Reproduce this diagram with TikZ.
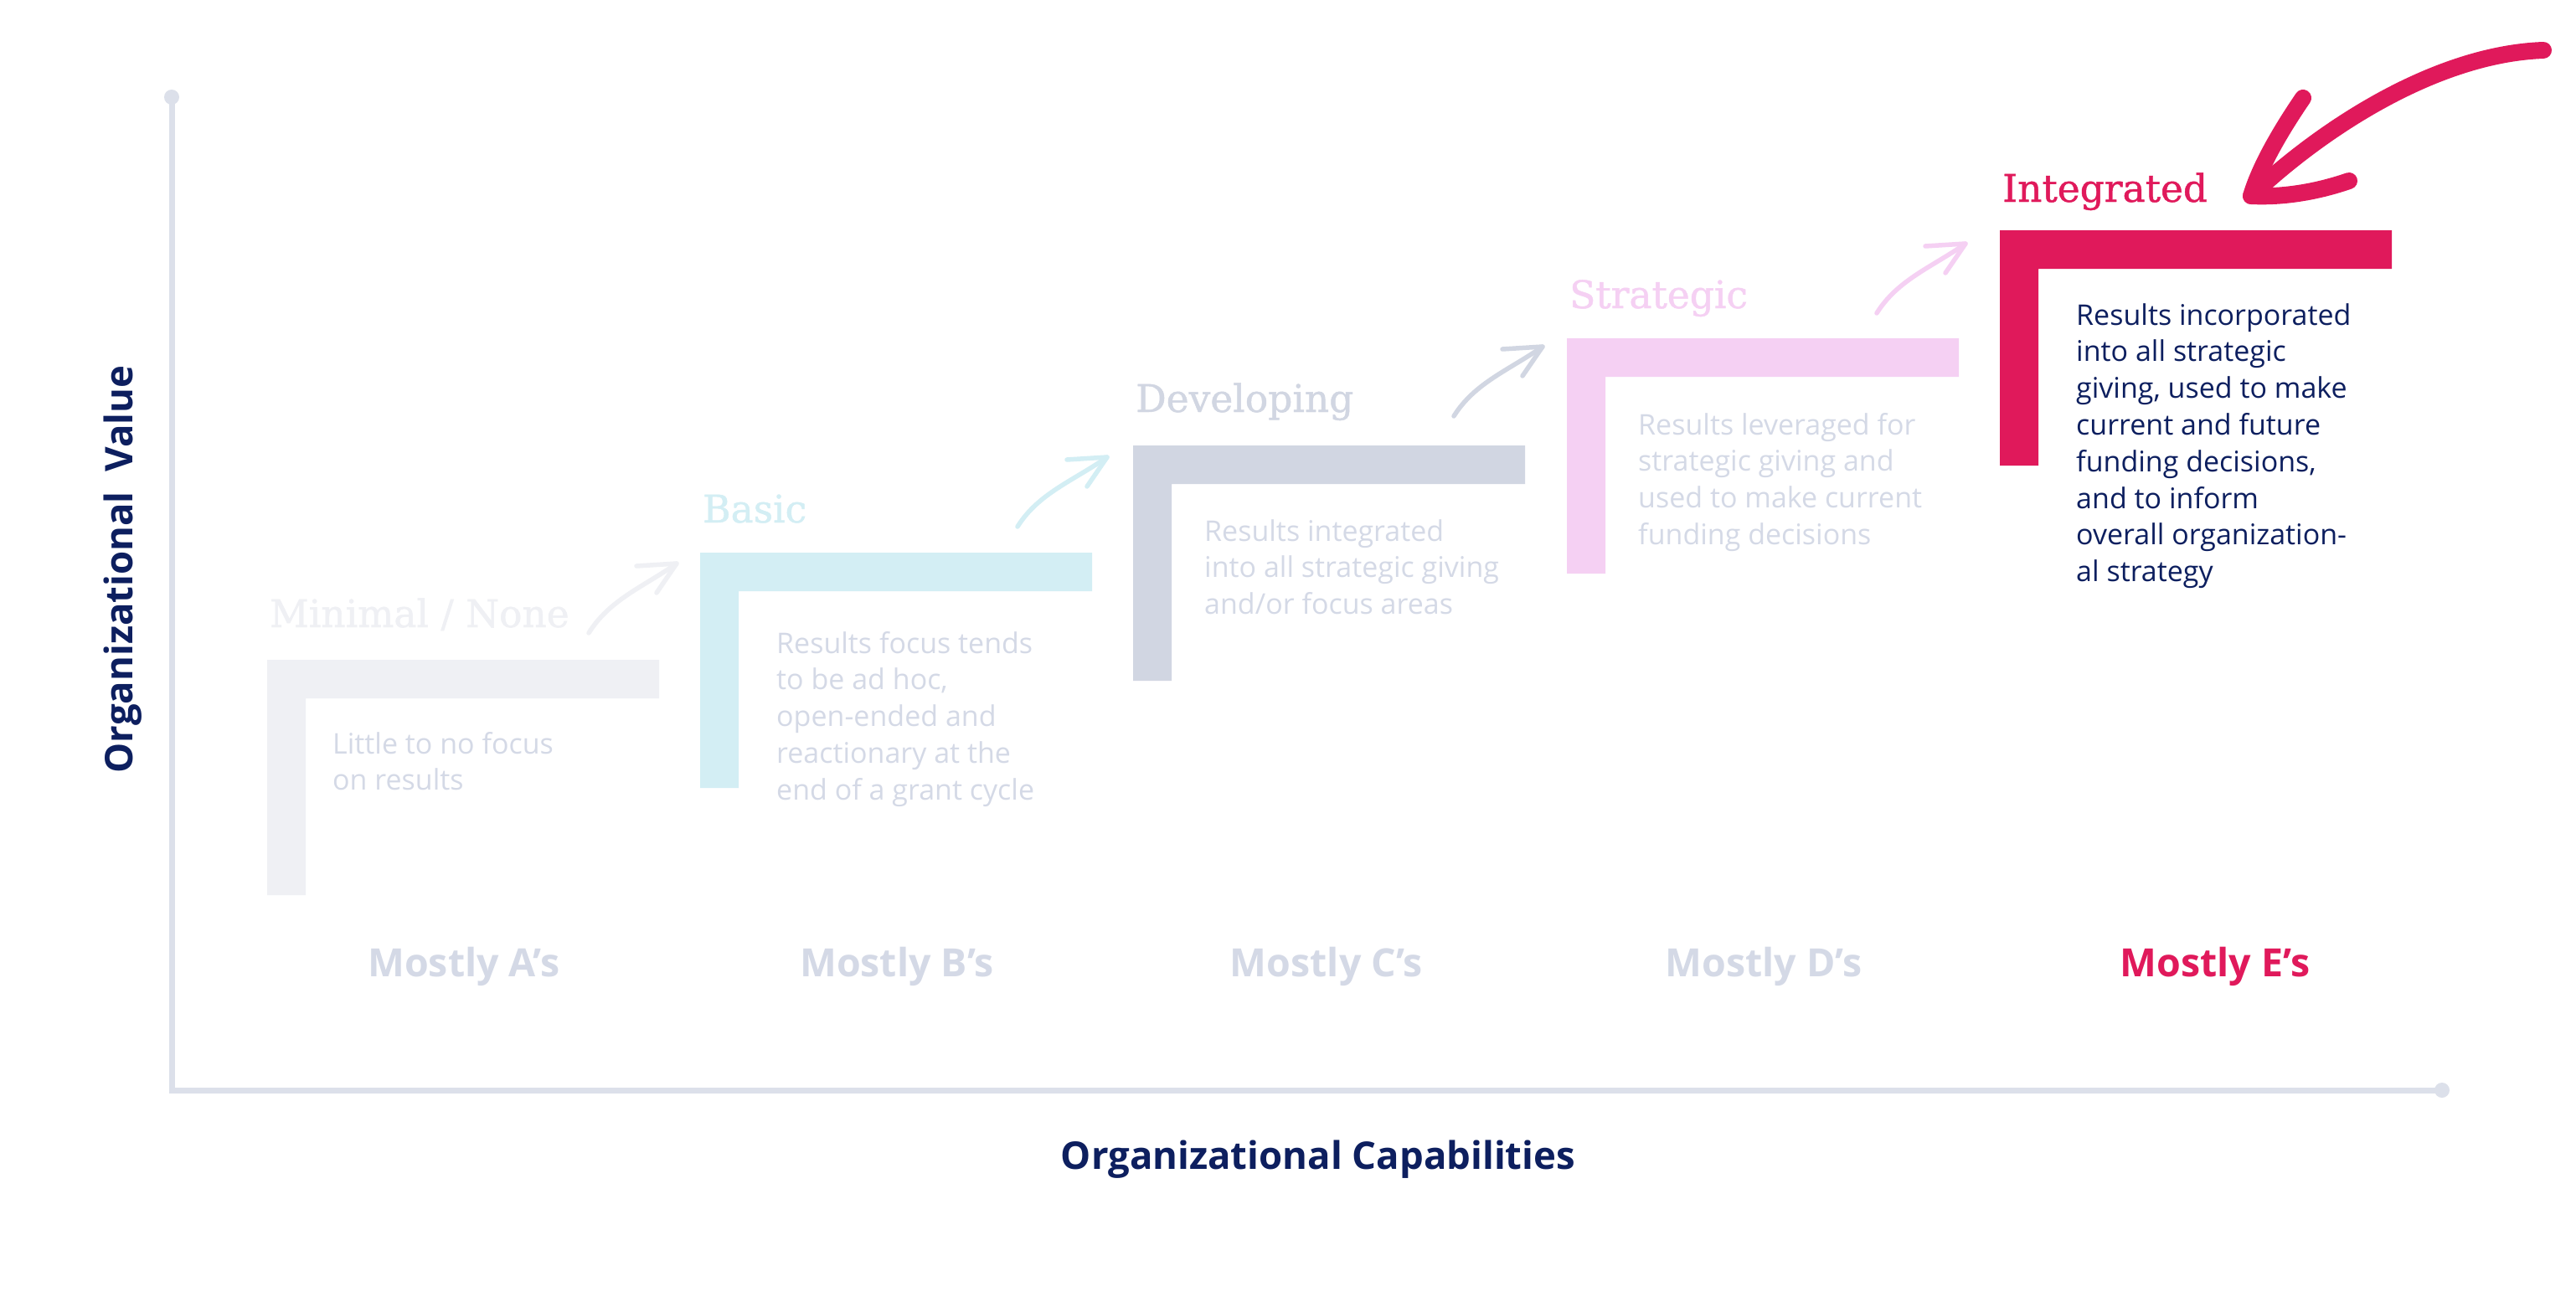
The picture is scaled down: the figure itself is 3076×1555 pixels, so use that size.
\documentclass[tikz,border=0pt]{standalone}
\usepackage{fontspec}
\setmainfont{Open Sans}
\newfontfamily\headfont{DejaVu Serif}[FakeBold=1]
\usetikzlibrary{calc}
\definecolor{boxA}{HTML}{EFF0F4}
\definecolor{boxB}{HTML}{D3EEF4}
\definecolor{boxC}{HTML}{D1D6E2}
\definecolor{boxD}{HTML}{F5D0F3}
\definecolor{boxE}{HTML}{E0195B}
\definecolor{faded}{HTML}{D4D9E6}
\definecolor{navy}{HTML}{0D1F5F}
\definecolor{axisgray}{HTML}{DCE0EA}
\tikzset{
  axisline/.style={draw=axisgray, line width=7pt},
  heading/.style={inner sep=0pt, anchor=base west, font=\headfont\fontsize{45.5}{50}\selectfont},
  body/.style={inner sep=0pt, anchor=base west, font=\fontsize{34}{43.8}\selectfont},
  mostly/.style={inner sep=0pt, anchor=base, font=\bfseries\fontsize{46.5}{52}\selectfont},
  axtitle/.style={inner sep=0pt, text=navy, font=\bfseries\fontsize{45.5}{52}\selectfont},
  smallarrow/.style={line width=5.5pt, line cap=round, line join=round},
  bigarrow/.style={draw=boxE, line width=20pt, line cap=round, line join=round},
}
\newcommand{\stepshape}[3]{%
  \fill[#3] (#1,#2) -- (#1+468,#2) -- (#1+468,#2+46) -- (#1+46,#2+46)
    -- (#1+46,#2+281) -- (#1,#2+281) -- cycle;}
\begin{document}
\begin{tikzpicture}[x=1pt,y=-1pt]
\useasboundingbox (0,0) rectangle (3076,1555);
\fill[white] (0,0) rectangle (3076,1555);

% axes
\coordinate (ytop) at (205,116);
\coordinate (origin) at (205,1302);
\coordinate (xend) at (2916,1302);
\draw[axisline] (ytop) -- (origin) -- (xend);
\fill[axisgray] (ytop) circle[radius=9];
\fill[axisgray] (xend) circle[radius=9];
\node[axtitle, rotate=90] (ytitle) at (147,680) {Organizational\ \ Value};
\node[axtitle, anchor=base] (xtitle) at (1574,1396) {Organizational Capabilities};

% steps
\stepshape{319}{788}{boxA}
\stepshape{836}{660}{boxB}
\stepshape{1353}{532}{boxC}
\stepshape{1871}{404}{boxD}
\stepshape{2388}{275}{boxE}

% headings
\node[heading, text=boxA] (h1) at (322,749) {Minimal / None};
\node[heading, text=boxB] (h2) at (839,624) {Basic};
\node[heading, text=boxC] (h3) at (1356,492) {Developing};
\node[heading, text=boxD] (h4) at (1874,368) {Strategic};
\node[heading, text=boxE] (h5) at (2391,241) {Integrated};

% body texts
\node[body, text=faded] (b1) at (397,900) {\parbox[t]{20cm}{\raggedright Little to no focus\\on results}};
\node[body, text=faded] (b2) at (927,780) {\parbox[t]{20cm}{\raggedright Results focus tends\\to be ad hoc,\\open-ended and\\reactionary at the\\end of a grant cycle}};
\node[body, text=faded] (b3) at (1438,646) {\parbox[t]{20cm}{\raggedright Results integrated\\into all strategic giving\\and/or focus areas}};
\node[body, text=faded] (b4) at (1956,519) {\parbox[t]{20cm}{\raggedright Results leveraged for\\strategic giving and\\used to make current\\funding decisions}};
\node[body, text=navy] (b5) at (2479,388) {\parbox[t]{20cm}{\raggedright Results incorporated\\into all strategic\\giving, used to make\\current and future\\funding decisions,\\and to inform\\overall organization-\\al strategy}};

% bottom labels
\node[mostly, text=faded] (m1) at (554,1166) {Mostly A’s};
\node[mostly, text=faded] (m2) at (1071,1166) {Mostly B’s};
\node[mostly, text=faded] (m3) at (1584,1166) {Mostly C’s};
\node[mostly, text=faded] (m4) at (2106,1166) {Mostly D’s};
\node[mostly, text=boxE] (m5) at (2645,1166) {Mostly E’s};

% small arrows
\coordinate (a1t) at (703,756); \coordinate (a1h) at (808,673);
\coordinate (a2t) at (1215,629); \coordinate (a2h) at (1322,546);
\coordinate (a3t) at (1736,497); \coordinate (a3h) at (1842,414);
\coordinate (a4t) at (2241,374); \coordinate (a4h) at (2347,291);
\foreach \k/\c in {1/boxA,2/boxB,3/boxC,4/boxD}{
  \draw[smallarrow, draw=\c] (a\k t) .. controls +(25,-40) and +(-40,28) .. (a\k h);
  \draw[smallarrow, draw=\c] ([shift={(-48,3)}]a\k h) -- (a\k h) -- ([shift={(-24,35)}]a\k h);
}

% big arrow
\coordinate (bt) at (3037,60);
\coordinate (bh) at (2688,234);
\coordinate (bb1) at (2750,117);
\coordinate (bb2) at (2805,216);
\draw[bigarrow] (bt) .. controls (2900,65) and (2760,165) .. (bh);
\draw[bigarrow] (bb1) .. controls (2722,158) and (2698,200) .. (bh) .. controls (2730,236) and (2770,228) .. (bb2);
\end{tikzpicture}
\end{document}
